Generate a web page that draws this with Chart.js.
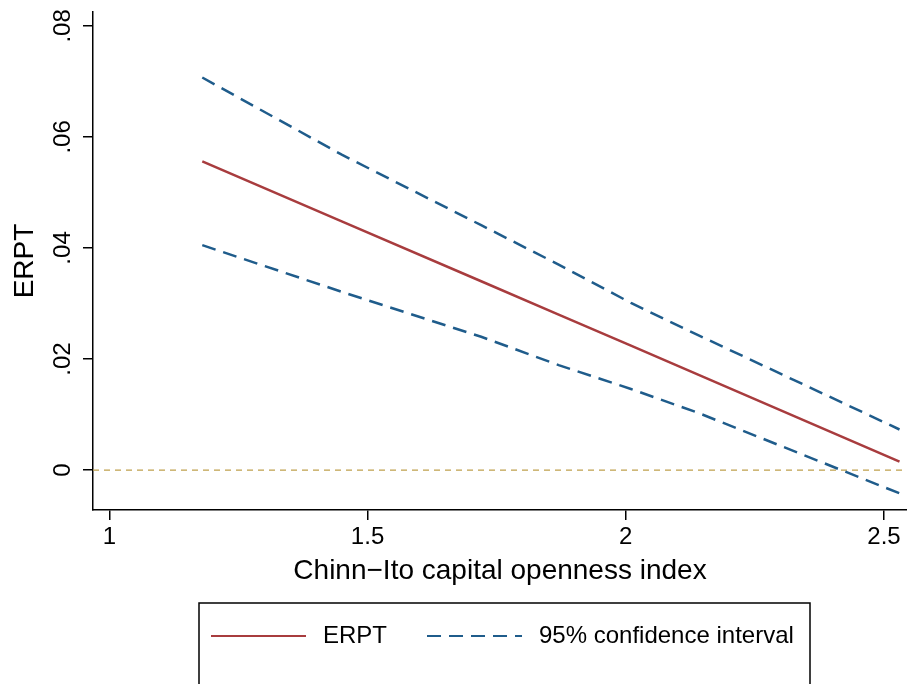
<!DOCTYPE html>
<html lang="en">
<head>
<meta charset="UTF-8">
<title>ERPT and capital openness</title>
<script src="https://cdn.jsdelivr.net/npm/chart.js@4"></script>
<style>
  html, body { margin: 0; padding: 0; background: #fff; }
  #wrap { width: 907px; height: 684px; overflow: hidden; }
</style>
</head>
<body>
<div id="wrap"><canvas id="chart" width="907" height="684"></canvas></div>
<script>
// marginal effect of the exchange rate on prices, by capital openness
const openness = [1.18, 1.45, 1.72, 1.87, 2.01, 2.14, 2.53];
const erpt     = [0.0556, 0.0448, 0.0340, 0.0280, 0.0224, 0.0172, 0.0015];
const ciUpper  = [0.0707, 0.0568, 0.0441, 0.0370, 0.0301, 0.0243, 0.0073];
const ciLower  = [0.0405, 0.0321, 0.0240, 0.0189, 0.0146, 0.0103, -0.0042];

const xTicks = [1, 1.5, 2, 2.5];
const yTicks = [0, 0.02, 0.04, 0.06, 0.08];
const refLine = 0;

const FONT = "'Liberation Sans', Arial, Helvetica, sans-serif";
const RED = '#a83c3e';
const BLUE = '#1f5c8b';
const GOLD = '#bfa04c';

const pts = ys => openness.map((x, i) => ({ x: x, y: ys[i] }));
const yLabel = v => v === 0 ? '0' : String(v).replace(/^0/, '');

// dashed horizontal line at zero
const refLinePlugin = {
    id: 'refLine',
    beforeDatasetsDraw(chart) {
        const { ctx, chartArea, scales } = chart;
        const y = scales.y.getPixelForValue(refLine);
        ctx.save();
        ctx.strokeStyle = GOLD;
        ctx.lineWidth = 1.3;
        ctx.setLineDash([6, 5]);
        ctx.beginPath();
        ctx.moveTo(chartArea.left, y);
        ctx.lineTo(chartArea.right, y);
        ctx.stroke();
        ctx.restore();
    }
};

// rotated y tick labels and the boxed legend underneath
const decorPlugin = {
    id: 'decor',
    afterDraw(chart) {
        const { ctx, scales } = chart;
        ctx.save();
        ctx.fillStyle = '#000';
        ctx.font = '24px ' + FONT;
        ctx.textAlign = 'center';
        ctx.textBaseline = 'middle';
        yTicks.forEach(v => {
            const y = scales.y.getPixelForValue(v);
            ctx.save();
            ctx.translate(63, y);
            ctx.rotate(-Math.PI / 2);
            ctx.fillText(yLabel(v), 0, 0);
            ctx.restore();
        });

        // legend box
        ctx.strokeStyle = '#000';
        ctx.lineWidth = 1.5;
        ctx.strokeRect(199, 603, 611, 200);

        const items = chart.data.datasets.filter(d => d.legend);
        let x = 211;
        const ly = 636;
        ctx.textAlign = 'left';
        items.forEach(d => {
            ctx.save();
            ctx.strokeStyle = d.borderColor;
            ctx.lineWidth = 2;
            ctx.setLineDash(d.borderDash || []);
            ctx.beginPath();
            ctx.moveTo(x, ly);
            ctx.lineTo(x + 95, ly);
            ctx.stroke();
            ctx.restore();
            ctx.fillText(d.label, x + 112, ly);
            x += 112 + ctx.measureText(d.label).width + 40;
        });
        ctx.restore();
    }
};

const line = (label, ys, color, dash, legend) => ({
    label: label,
    data: pts(ys),
    showLine: true,
    borderColor: color,
    borderWidth: 2.5,
    borderDash: dash,
    pointRadius: 0,
    fill: false,
    legend: legend
});

new Chart(document.getElementById('chart'), {
    type: 'scatter',
    data: {
        datasets: [
            line('ERPT', erpt, RED, [], true),
            line('95% confidence interval', ciUpper, BLUE, [14, 8], true),
            line('95% confidence interval', ciLower, BLUE, [14, 8], false)
        ]
    },
    options: {
        responsive: false,
        animation: false,
        layout: { padding: { top: 12, right: 0, bottom: 96, left: 0 } },
        plugins: { legend: { display: false }, tooltip: { enabled: false } },
        scales: {
            x: {
                type: 'linear',
                min: 0.9684,
                max: 2.5445,
                afterFit: s => { s.height = 78; },
                afterBuildTicks: s => { s.ticks = xTicks.map(v => ({ value: v })); },
                grid: { drawOnChartArea: false, drawTicks: true, tickLength: 10, color: '#000', lineWidth: 1.5 },
                border: { color: '#000', width: 1.5 },
                ticks: { color: '#000', font: { family: FONT, size: 24 }, padding: 3, maxRotation: 0, callback: v => String(v) },
                title: { display: true, text: 'Chinn\u2212Ito capital openness index', color: '#000', font: { family: FONT, size: 28 }, padding: 0 }
            },
            y: {
                type: 'linear',
                min: -0.0072,
                max: 0.0825,
                afterFit: s => { s.width = 93; },
                afterBuildTicks: s => { s.ticks = yTicks.map(v => ({ value: v })); },
                grid: { drawOnChartArea: false, drawTicks: true, tickLength: 10, color: '#000', lineWidth: 1.5 },
                border: { color: '#000', width: 1.5 },
                ticks: { display: false },
                title: { display: true, text: 'ERPT', color: '#000', font: { family: FONT, size: 28 }, padding: { top: 8, bottom: 0 } }
            }
        }
    },
    plugins: [refLinePlugin, decorPlugin]
});
</script>
</body>
</html>
